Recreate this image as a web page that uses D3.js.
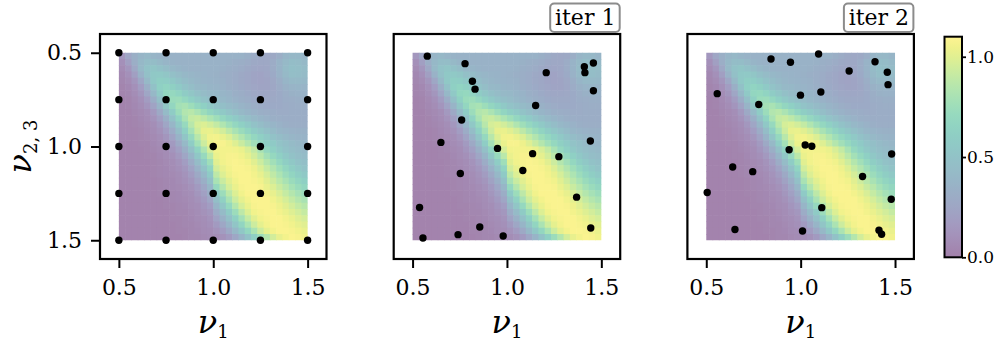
<!DOCTYPE html>
<meta charset="utf-8">
<head>
  <script src="https://d3js.org/d3.v7.min.js"></script>
</head>
<style>

body {
  margin: 0;
  background: #fff;
}

.axis text {
  font-family: "DejaVu Serif", serif;
  font-size: 22px;
  fill: #000;
}

.axis line {
  stroke: #000;
  stroke-width: 2;
}

.cbar-axis text {
  font-family: "DejaVu Serif", serif;
  font-size: 17px;
  fill: #000;
}

.cbar-axis line {
  stroke: #000;
  stroke-width: 1.8;
}

.axis-label {
  font-family: "DejaVu Serif", serif;
  font-size: 32px;
}

.iter-label {
  font-family: "DejaVu Serif", serif;
  font-size: 22px;
}

</style>

<body>
<svg width="997" height="349" id="container"></svg>
<script>

// ---- data ----
var gridNu = [0.5, 0.75, 1.0, 1.25, 1.5];

var iter1X = [0.578, 0.778, 1.208, 1.410, 1.413, 1.458, 0.817, 0.831, 1.458, 1.152,
              0.760, 0.650, 1.442, 0.950, 1.136, 1.275, 1.084, 0.753, 1.369, 0.537,
              0.856, 1.444, 0.741, 0.980, 0.555];
var iter1Y = [0.518, 0.558, 0.606, 0.574, 0.606, 0.555, 0.652, 0.694, 0.703, 0.781,
              0.859, 0.978, 0.971, 1.010, 1.038, 1.054, 1.128, 1.144, 1.270, 1.325,
              1.429, 1.435, 1.470, 1.477, 1.488];

var iter2X = [0.843, 0.946, 1.095, 1.394, 1.257, 1.459, 1.463, 0.558, 0.999, 1.107,
              0.778, 1.024, 1.059, 0.939, 1.482, 0.640, 0.746, 1.328, 0.505, 1.480,
              1.112, 0.652, 1.010, 1.415, 1.429];
var iter2Y = [0.533, 0.551, 0.507, 0.548, 0.597, 0.604, 0.670, 0.718, 0.726, 0.709,
              0.776, 0.992, 0.999, 1.017, 1.040, 1.109, 1.134, 1.160, 1.245, 1.281,
              1.326, 1.443, 1.451, 1.447, 1.468];

var panelTitles = ["", "iter 1", "iter 2"];
var axisTicks = [0.5, 1.0, 1.5];
var cbarTicks = [0.0, 0.5, 1.0];
var cbarMax = 1.1;

// surface values, rows run from nu_{2,3}=0.5 (top) to 1.5, columns nu_1 0.5 -> 1.5
var surface = [
  [.15,.25,.33,.38,.40,.38,.36,.35,.35,.35,.35,.35,.35,.35,.35,.35,.35,.35,.35,.35,.33,.30,.28,.27,.28,.32,.38,.40,.40,.38],
  [.10,.20,.32,.40,.45,.45,.42,.38,.36,.35,.35,.35,.35,.35,.35,.35,.35,.34,.33,.32,.30,.28,.27,.27,.30,.36,.42,.45,.44,.42],
  [.07,.14,.27,.42,.50,.52,.49,.45,.41,.38,.36,.35,.35,.35,.35,.35,.34,.33,.32,.30,.28,.26,.25,.26,.30,.36,.43,.47,.46,.44],
  [.05,.10,.20,.35,.48,.55,.56,.53,.48,.44,.41,.39,.37,.36,.35,.34,.33,.32,.30,.28,.26,.24,.23,.25,.29,.35,.42,.46,.45,.43],
  [.04,.07,.14,.26,.42,.55,.61,.60,.55,.50,.45,.42,.39,.37,.36,.35,.34,.32,.30,.28,.26,.24,.23,.24,.27,.32,.38,.42,.42,.40],
  [.03,.05,.10,.19,.33,.49,.62,.66,.63,.57,.51,.46,.42,.40,.38,.37,.35,.33,.31,.29,.27,.25,.24,.24,.26,.30,.34,.37,.38,.37],
  [.03,.04,.08,.14,.25,.40,.56,.68,.70,.66,.59,.53,.48,.44,.42,.40,.38,.36,.33,.31,.29,.27,.26,.26,.27,.29,.32,.34,.35,.35],
  [.02,.03,.06,.10,.18,.31,.47,.63,.73,.74,.69,.62,.56,.51,.47,.44,.41,.38,.35,.33,.31,.29,.28,.28,.28,.29,.31,.32,.33,.33],
  [.02,.03,.05,.08,.13,.23,.37,.53,.68,.78,.80,.75,.68,.62,.56,.51,.47,.43,.40,.37,.34,.32,.30,.29,.29,.29,.30,.31,.32,.32],
  [.02,.02,.04,.06,.09,.16,.28,.43,.59,.74,.84,.86,.81,.74,.67,.61,.56,.51,.46,.42,.38,.35,.33,.32,.31,.30,.30,.31,.31,.31],
  [.02,.02,.03,.05,.07,.12,.20,.33,.49,.65,.80,.90,.92,.88,.82,.76,.69,.63,.57,.51,.46,.42,.38,.35,.33,.32,.31,.31,.31,.31],
  [.02,.02,.03,.04,.06,.09,.15,.25,.39,.55,.71,.86,.96,.98,.95,.90,.83,.76,.69,.62,.56,.50,.45,.41,.38,.35,.33,.32,.32,.32],
  [.02,.02,.02,.03,.05,.07,.11,.19,.30,.45,.62,.79,.93,1.02,1.03,1.00,.95,.88,.80,.73,.66,.59,.53,.48,.43,.39,.37,.35,.34,.34],
  [.02,.02,.02,.03,.04,.06,.09,.14,.23,.36,.52,.70,.86,.98,1.05,1.06,1.03,.98,.91,.84,.76,.69,.62,.56,.50,.45,.42,.39,.37,.36],
  [.02,.02,.02,.03,.03,.05,.07,.10,.17,.28,.42,.60,.78,.93,1.03,1.07,1.07,1.04,.99,.92,.85,.77,.70,.63,.57,.51,.47,.43,.40,.39],
  [.02,.02,.02,.02,.03,.04,.06,.08,.13,.21,.33,.48,.65,.82,.96,1.05,1.06,1.06,1.05,1.03,.97,.90,.80,.70,.62,.55,.50,.46,.43,.42],
  [.02,.02,.02,.02,.03,.03,.05,.07,.10,.16,.25,.38,.54,.71,.87,1.03,1.06,1.07,1.07,1.05,1.01,.95,.87,.78,.70,.62,.55,.50,.46,.44],
  [.02,.02,.02,.02,.02,.03,.04,.06,.08,.12,.19,.30,.44,.60,.76,1.00,1.05,1.07,1.08,1.07,1.05,1.00,.93,.85,.77,.69,.61,.55,.50,.47],
  [.02,.02,.02,.02,.02,.03,.04,.05,.07,.10,.15,.23,.35,.50,.66,.95,1.02,1.06,1.08,1.08,1.07,1.04,.98,.91,.84,.76,.68,.61,.55,.51],
  [.02,.02,.02,.02,.02,.03,.04,.05,.06,.08,.12,.18,.28,.41,.57,.88,.98,1.04,1.07,1.08,1.08,1.06,1.02,.96,.89,.82,.74,.67,.61,.56],
  [.02,.02,.02,.02,.02,.02,.03,.04,.05,.07,.10,.14,.22,.33,.48,.80,.92,1.00,1.05,1.08,1.08,1.07,1.05,1.00,.94,.87,.80,.73,.67,.62],
  [.02,.02,.02,.02,.02,.02,.03,.04,.05,.06,.08,.11,.17,.26,.39,.70,.85,.96,1.03,1.07,1.08,1.08,1.07,1.03,.98,.92,.86,.79,.73,.68],
  [.02,.02,.02,.02,.02,.02,.03,.03,.04,.05,.07,.09,.14,.21,.31,.57,.74,.88,.98,1.05,1.08,1.08,1.08,1.06,1.02,.97,.91,.85,.79,.74],
  [.02,.02,.02,.02,.02,.02,.02,.03,.04,.05,.06,.08,.11,.17,.25,.47,.64,.80,.93,1.01,1.06,1.08,1.08,1.08,1.05,1.01,.96,.90,.85,.80],
  [.02,.02,.02,.02,.02,.02,.02,.03,.03,.04,.05,.07,.09,.13,.19,.38,.53,.70,.85,.96,1.03,1.07,1.08,1.08,1.07,1.04,1.00,.95,.90,.86],
  [.02,.02,.02,.02,.02,.02,.02,.02,.03,.04,.04,.06,.08,.11,.15,.30,.43,.58,.74,.88,.98,1.05,1.07,1.08,1.08,1.06,1.03,.99,.95,.91],
  [.02,.02,.02,.02,.02,.02,.02,.02,.03,.03,.04,.05,.07,.09,.12,.23,.34,.48,.63,.78,.91,1.00,1.05,1.07,1.08,1.08,1.06,1.03,.99,.96],
  [.02,.02,.02,.02,.02,.02,.02,.02,.02,.03,.04,.04,.06,.08,.10,.17,.26,.38,.52,.67,.81,.93,1.01,1.06,1.08,1.08,1.07,1.05,1.02,1.00],
  [.02,.02,.02,.02,.02,.02,.02,.02,.02,.03,.03,.04,.05,.07,.08,.12,.18,.28,.40,.54,.68,.81,.93,1.01,1.06,1.08,1.08,1.07,1.05,1.03],
  [.02,.02,.02,.02,.02,.02,.02,.02,.02,.02,.03,.04,.04,.06,.07,.08,.11,.17,.26,.37,.50,.62,.74,.85,.95,1.02,1.06,1.08,1.07,1.05]
];

// ---- layout ----
var svg = d3.select('#container');
var panelLeft = [100, 393.7, 687.4],
    panelTop = 34,
    panelW = 226.5,
    panelH = 225;

var colorScale = d3.scaleLinear().domain([0, cbarMax]).range([0, 1]).clamp(true);

// viridis at alpha .5 over white
function cellColor(v) {
  return d3.interpolateRgb('#ffffff', d3.interpolateViridis(colorScale(v)))(0.5);
}

var panelPoints = [
  d3.cross(gridNu, gridNu).map(function(p) { return {x: p[1], y: p[0]}; }),
  iter1X.map(function(x, i) { return {x: x, y: iter1Y[i]}; }),
  iter2X.map(function(x, i) { return {x: x, y: iter2Y[i]}; })
];

var cells = [];
surface.forEach(function(row, r) {
  row.forEach(function(v, c) { cells.push({r: r, c: c, v: v}); });
});

panelLeft.forEach(function(left, p) {
  var g = svg.append('g')
             .attr('transform', 'translate(' + left + ',' + panelTop + ')');

  var xScale = d3.scaleLinear().domain([0.4, 1.6]).range([0, panelW]),
      yScale = d3.scaleLinear().domain([0.4, 1.6]).range([0, panelH]);

  var colBand = d3.scaleBand().domain(d3.range(surface[0].length)).range([xScale(0.5), xScale(1.5)]),
      rowBand = d3.scaleBand().domain(d3.range(surface.length)).range([yScale(0.5), yScale(1.5)]);

  // heatmap
  g.append('g').selectAll('rect')
   .data(cells)
   .enter()
   .append('rect')
   .attr('x', function(d) { return colBand(d.c); })
   .attr('y', function(d) { return rowBand(d.r); })
   .attr('width', function(d) { return colBand.bandwidth() + (d.c < surface[0].length - 1 ? 0.6 : 0); })
   .attr('height', function(d) { return rowBand.bandwidth() + (d.r < surface.length - 1 ? 0.6 : 0); })
   .attr('fill', function(d) { return cellColor(d.v); });

  // sampled points
  g.append('g').selectAll('circle')
   .data(panelPoints[p])
   .enter()
   .append('circle')
   .attr('cx', function(d) { return xScale(d.x); })
   .attr('cy', function(d) { return yScale(d.y); })
   .attr('r', 3.7)
   .attr('fill', '#000');

  // axes
  g.append('g')
   .attr('class', 'axis')
   .attr('transform', 'translate(0,' + panelH + ')')
   .call(d3.axisBottom(xScale).tickValues(axisTicks).tickFormat(d3.format('.1f')).tickSize(9).tickPadding(11))
   .call(function(a) { a.select('.domain').remove(); });

  if (p == 0) {
    g.append('g')
     .attr('class', 'axis')
     .call(d3.axisLeft(yScale).tickValues(axisTicks).tickFormat(d3.format('.1f')).tickSize(9).tickPadding(9))
     .call(function(a) { a.select('.domain').remove(); });

    var yl = g.append('text')
              .attr('class', 'axis-label')
              .attr('text-anchor', 'middle')
              .attr('transform', 'translate(' + (31 - left) + ',' + (panelH / 2) + ') rotate(-90)');
    yl.append('tspan').attr('font-style', 'italic').text('ν');
    yl.append('tspan').attr('font-size', '18px').attr('dy', 6).text('2, 3');
  }

  var xl = g.append('text')
            .attr('class', 'axis-label')
            .attr('text-anchor', 'middle')
            .attr('x', panelW / 2)
            .attr('y', 299);
  xl.append('tspan').attr('font-style', 'italic').text('ν');
  xl.append('tspan').attr('font-size', '18px').attr('dy', 5).text('1');

  // frame
  g.append('rect')
   .attr('width', panelW)
   .attr('height', panelH)
   .attr('fill', 'none')
   .attr('stroke', '#000')
   .attr('stroke-width', 2.2);

  // iteration badge
  if (panelTitles[p]) {
    var badge = g.append('g');
    badge.append('text')
         .attr('class', 'iter-label')
         .attr('text-anchor', 'middle')
         .attr('x', panelW - 35)
         .attr('y', -9)
         .text(panelTitles[p]);
    badge.insert('rect', ':first-child')
         .attr('x', panelW - 70)
         .attr('y', -30.5)
         .attr('width', 69.5)
         .attr('height', 28.5)
         .attr('rx', 4)
         .attr('fill', '#fff')
         .attr('stroke', '#8c8c8c')
         .attr('stroke-width', 2);
  }
});

// ---- colorbar ----
var cbLeft = 944.5, cbWidth = 17.5, cbTop = 36.7, cbBottom = 257.3;
var cbScale = d3.scaleLinear().domain([0, cbarMax]).range([cbBottom, cbTop]);

var grad = svg.append('defs').append('linearGradient')
              .attr('id', 'cbar-grad')
              .attr('x1', 0).attr('y1', 1).attr('x2', 0).attr('y2', 0);
grad.selectAll('stop')
    .data(d3.range(0, 1.0001, 0.05))
    .enter()
    .append('stop')
    .attr('offset', function(d) { return d; })
    .attr('stop-color', function(d) { return cellColor(d * cbarMax); });

svg.append('rect')
   .attr('x', cbLeft)
   .attr('y', cbTop)
   .attr('width', cbWidth)
   .attr('height', cbBottom - cbTop)
   .attr('fill', 'url(#cbar-grad)')
   .attr('stroke', '#000')
   .attr('stroke-width', 2);

svg.append('g')
   .attr('class', 'cbar-axis')
   .attr('transform', 'translate(' + (cbLeft + cbWidth) + ',0)')
   .call(d3.axisRight(cbScale).tickValues(cbarTicks).tickFormat(d3.format('.1f')).tickSize(4).tickPadding(1))
   .call(function(a) { a.select('.domain').remove(); });

</script>
</body>
